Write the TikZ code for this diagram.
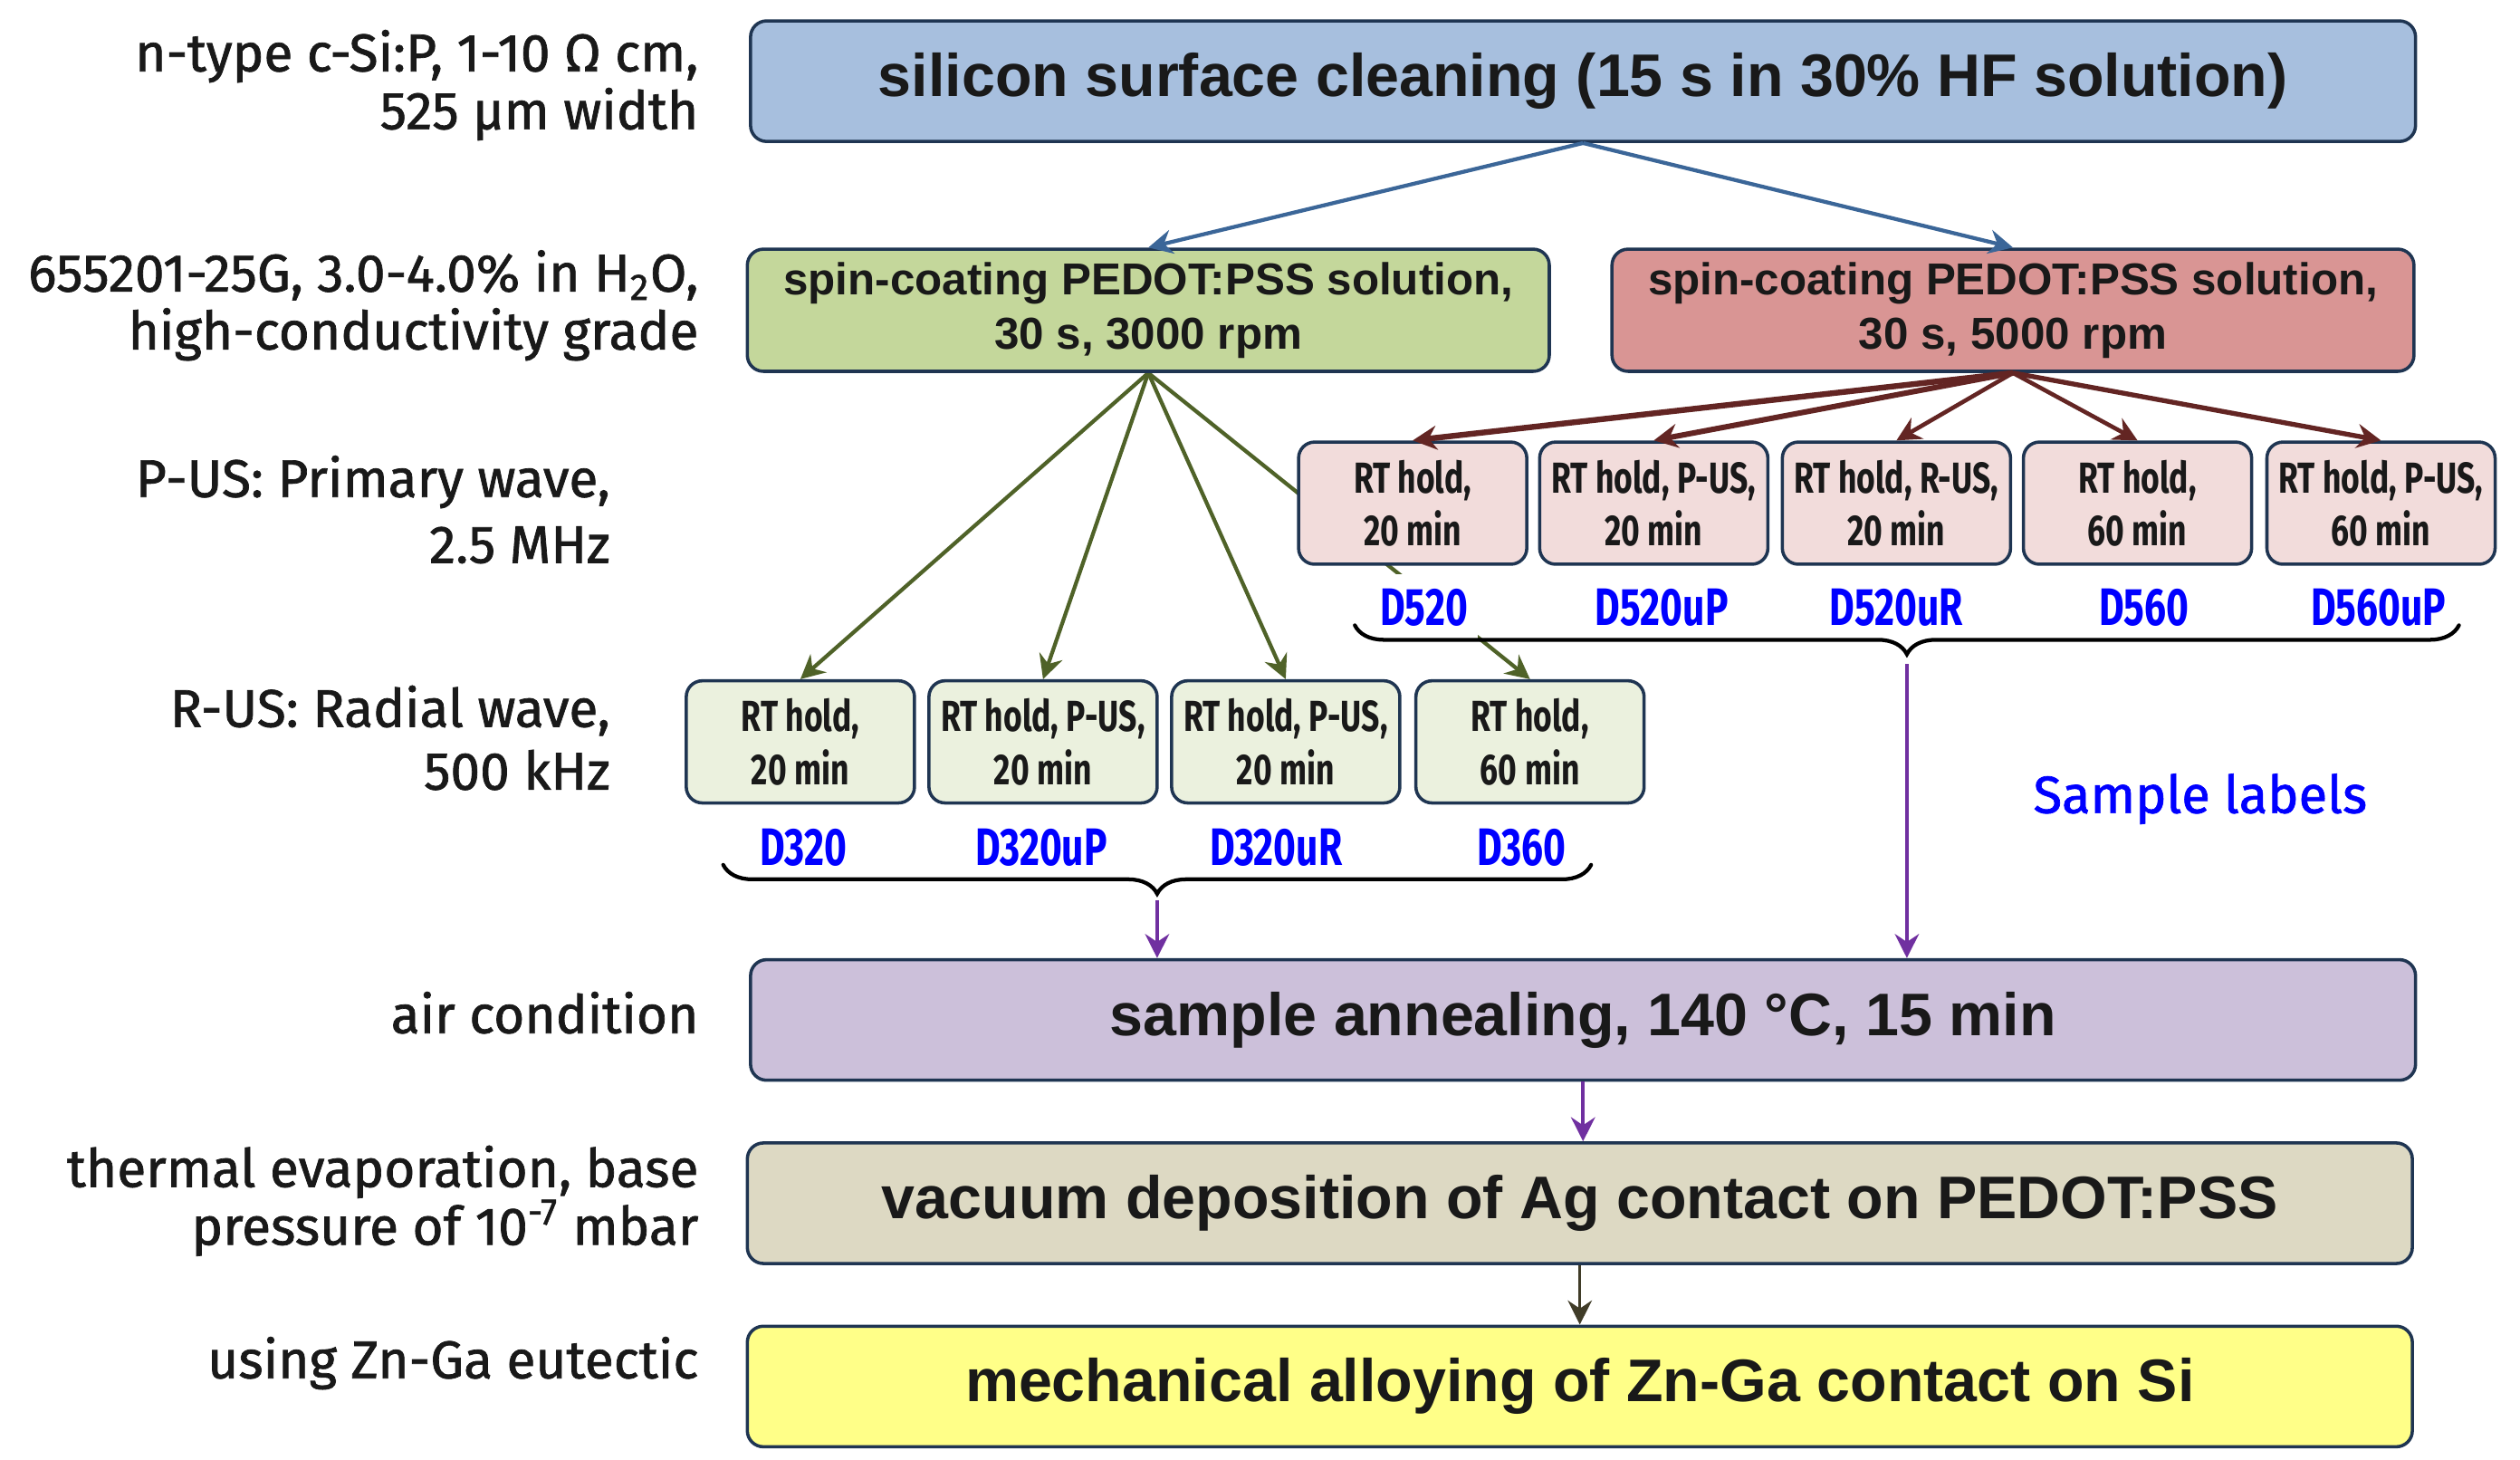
\documentclass[tikz,border=0pt]{standalone}
\usepackage{fontspec}
\setmainfont{Liberation Sans}
\newfontfamily\notefont{Fira Sans}[FakeBold=1.2]
\newfontfamily\narrowfont{Fira Sans}[FakeStretch=0.74]
\newfontfamily\idfont{Fira Sans}[FakeStretch=0.73]
\usetikzlibrary{arrows.meta,decorations.pathreplacing}

\definecolor{edge}{HTML}{1F3552}
\definecolor{cleanfill}{HTML}{A7BFDE}
\definecolor{spinA}{HTML}{C4D79B}
\definecolor{spinB}{HTML}{D99594}
\definecolor{holdA}{HTML}{EBF1DE}
\definecolor{holdB}{HTML}{F2DCDB}
\definecolor{annealfill}{HTML}{CCC0DA}
\definecolor{vacfill}{HTML}{DDD9C3}
\definecolor{alloyfill}{HTML}{FFFF88}
\definecolor{idblue}{HTML}{0000FF}
\definecolor{arrblue}{HTML}{3B6698}
\definecolor{arrgreen}{HTML}{4F6228}
\definecolor{arrred}{HTML}{632523}
\definecolor{arrpurple}{HTML}{7030A0}
\definecolor{arrolive}{HTML}{403C28}

\pgfdeclarelayer{back}
\pgfsetlayers{back,main}

\begin{document}
\begin{tikzpicture}[x=0.5pt,y=-0.5pt,
  stage/.style={draw=edge, line width=1pt, rounded corners=5pt, inner sep=0pt,
    align=center, minimum height=37.5pt, text=black!90},
  wide/.style={stage, minimum width=518pt,
    font=\fontsize{18.7}{22}\selectfont\bfseries},
  spin/.style={stage, minimum width=249.5pt, minimum height=38pt,
    font=\fontsize{13.9}{17}\selectfont\bfseries},
  hold/.style={stage, minimum width=71pt, minimum height=38pt,
    font=\narrowfont\bfseries\fontsize{13.5}{16.5}\selectfont},
  sid/.style={text=idblue, fill=white, inner xsep=3pt, inner ysep=0pt,
    minimum height=21pt, font=\idfont\bfseries\fontsize{16.4}{17}\selectfont},
  note/.style={anchor=east, align=right, inner sep=0pt, text=black!90,
    font=\notefont\fontsize{16.5}{18}\selectfont},
  flow/.style={-{Stealth[length=7.5pt,width=7.5pt,inset=2.5pt]}, line width=1pt},
  grp/.style={decorate, decoration={brace, mirror, amplitude=9pt},
    line width=1.2pt, line cap=round}]
\useasboundingbox (0,0) rectangle (1568,908);

% process stages
\node[wide, fill=cleanfill] (clean) at (985,50.5)
  {silicon surface cleaning (15 s in 30\% HF solution)};
\node[spin, fill=spinA] (spin3) at (714.5,193)
  {spin-coating PEDOT:PSS solution,\\30 s, 3000 rpm};
\node[spin, fill=spinB] (spin5) at (1252.5,193)
  {spin-coating PEDOT:PSS solution,\\30 s, 5000 rpm};

% holding steps after 5000 rpm
\node[hold, fill=holdB] (p1) at (879,313) {RT hold,\\20 min};
\node[hold, fill=holdB] (p2) at (1029,313) {RT hold, P-US,\\20 min};
\node[hold, fill=holdB] (p3) at (1180,313) {RT hold, R-US,\\20 min};
\node[hold, fill=holdB] (p4) at (1330,313) {RT hold,\\60 min};
\node[hold, fill=holdB] (p5) at (1481.5,313) {RT hold, P-US,\\60 min};

% holding steps after 3000 rpm
\node[hold, fill=holdA] (g1) at (498,461.5) {RT hold,\\20 min};
\node[hold, fill=holdA] (g2) at (649,461.5) {RT hold, P-US,\\20 min};
\node[hold, fill=holdA] (g3) at (800,461.5) {RT hold, P-US,\\20 min};
\node[hold, fill=holdA] (g4) at (952,461.5) {RT hold,\\60 min};

\node[wide, fill=annealfill] (anneal) at (985,634.5)
  {sample annealing, 140 °C, 15 min};
\node[wide, fill=vacfill] (vac) at (983,748.5)
  {vacuum deposition of Ag contact on PEDOT:PSS};
\node[wide, fill=alloyfill] (alloy) at (983,862.5)
  {mechanical alloying of Zn-Ga contact on Si};

% sample identifiers
\node[sid] (s520) at (886,378) {D520};
\node[sid] (s520uP) at (1034,378) {D520uP};
\node[sid] (s520uR) at (1180,378) {D520uR};
\node[sid] (s560) at (1334,378) {D560};
\node[sid] (s560uP) at (1480,378) {D560uP};
\node[sid] (s320) at (500,527) {D320};
\node[sid] (s320uP) at (648,527) {D320uP};
\node[sid] (s320uR) at (794,527) {D320uR};
\node[sid] (s360) at (947,527) {D360};
\node[text=idblue, inner sep=0pt, font=\notefont\fontsize{16.3}{18}\selectfont]
  (samples) at (1369,497) {Sample labels};

% process conditions
\node[note] (n1) at (435,53) {n-type c-Si:P, 1-10 Ω cm,\\525 μm width};
\node[note] (n2) at (435,190) {655201-25G, 3.0-4.0\% in H\textsubscript{2}O,\\high-conductivity grade};
\node[note, font=\notefont\fontsize{16.5}{20.5}\selectfont] (n3) at (380,317)
  {P-US: Primary wave,\\2.5 MHz};
\node[note, font=\notefont\fontsize{16.5}{19.5}\selectfont] (n4) at (380,459)
  {R-US: Radial wave,\\500 kHz};
\node[note] (n5) at (435,630) {air condition};
\node[note] (n6) at (435,747) {thermal evaporation, base\\pressure of 10\textsuperscript{-7} mbar};
\node[note] (n7) at (435,848) {using Zn-Ga eutectic};

% connectors
\draw[flow, arrblue, line width=1.2pt] (clean.south) -- (spin3.north);
\draw[flow, arrblue, line width=1.2pt] (clean.south) -- (spin5.north);
\foreach \t/\w in {p1/1.8pt,p2/1.7pt,p3/1.3pt,p4/1.3pt,p5/1.5pt}
  \draw[flow, arrred, line width=\w] (spin5.south) -- (\t.north);
% branches from the 3000 rpm coating run beneath boxes and labels
\begin{pgfonlayer}{back}
  \foreach \t in {g1,g2,g3,g4}
    \draw[flow, arrgreen, line width=1.2pt] (spin3.south) -- (\t.north);
\end{pgfonlayer}

% groupings of samples
\draw[grp] (843,389) -- (1530,389);
\draw[grp] (450,538) -- (990,538);
\coordinate (tipB) at (1186.5,413);
\coordinate (tipA) at (720,560);
\draw[flow, arrpurple] (tipB) -- (tipB |- anneal.north);
\draw[flow, arrpurple] (tipA) -- (tipA |- anneal.north);
\draw[flow, arrpurple] (anneal.south) -- (anneal.south |- vac.north);
\draw[flow, arrolive] (vac.south) -- (vac.south |- alloy.north);
\end{tikzpicture}
\end{document}
